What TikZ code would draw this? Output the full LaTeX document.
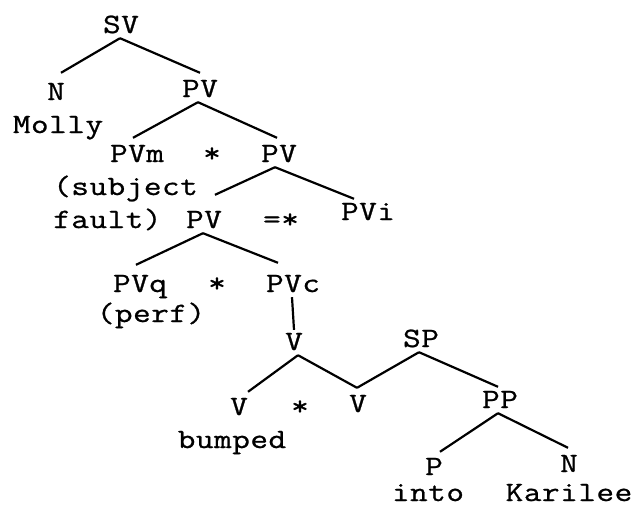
\documentclass[tikz,border=0pt]{standalone}
\usepackage{fontspec}
\newfontfamily\tw[FakeStretch=1.22,FakeBold=0.9,LetterSpace=2]{Latin Modern Mono}
\begin{document}
\begin{tikzpicture}[x=1pt,y=-1pt,
  lbl/.style={font=\tw\fontsize{28}{28}\selectfont, inner xsep=0pt, inner ysep=5pt, text height=17pt, text depth=0pt, anchor=base},
  word/.style={font=\tw\fontsize{28}{28}\selectfont, inner sep=0pt, anchor=base},
  edge/.style={line width=2.2pt}]
\useasboundingbox (0,0) rectangle (637,507);
% nodes
\node[lbl] (sv) at (121,33) {SV};
\node[lbl] (n1) at (56,100) {N};
\node[word] (molly) at (58,133) {Molly};
\node[lbl] (pv1) at (200,97) {PV};
\node[lbl] (pvm) at (137,162) {PVm};
\node[word] (st1) at (212,162) {*};
\node[lbl] (pv2) at (279,162) {PV};
\node[word, anchor=base west] (subj1) at (53,195) {(subject};
\node[word, anchor=base west] (subj2) at (53,228) {fault)};
\node[lbl] (pv3) at (204,228) {PV};
\node[word] (eqs) at (281,228) {=*};
\node[lbl] (pvi) at (368,220) {PVi};
\node[lbl] (pvq) at (140,292) {PVq};
\node[word] (st2) at (217,292) {*};
\node[lbl] (pvc) at (293,292) {PVc};
\node[word] (perf) at (151,322) {(perf)};
\node[lbl] (v1) at (294,350) {V};
\node[lbl] (sp) at (421,347) {SP};
\node[lbl] (v2) at (239,415) {V};
\node[word] (st3) at (300,415) {*};
\node[lbl] (v3) at (358,412) {V};
\node[word] (bumped) at (232,448) {bumped};
\node[lbl] (pp) at (500,408) {PP};
\node[lbl] (p) at (434,475) {P};
\node[lbl] (n2) at (569,472) {N};
\node[word] (into) at (428,501) {into};
\node[word] (karilee) at (569,501) {Karilee};
% edges
\draw[edge] ([xshift=-1pt]sv.south) -- ([xshift=5pt,yshift=5pt]n1.north);
\draw[edge] ([xshift=-1pt]sv.south) -- ([yshift=2pt]pv1.north);
\draw[edge] ([xshift=-2pt]pv1.south) -- ([xshift=-4pt,yshift=2pt]pvm.north);
\draw[edge] ([xshift=-2pt]pv1.south) -- ([xshift=-2pt,yshift=2pt]pv2.north);
\draw[edge] ([xshift=-4pt]pv2.south) -- ([xshift=11pt,yshift=11pt]pv3.north);
\draw[edge] ([xshift=-4pt]pv2.south) -- ([xshift=-14pt,yshift=-1pt]pvi.north);
\draw[edge] ([xshift=-1pt]pv3.south) -- ([xshift=-4pt,yshift=5pt]pvq.north);
\draw[edge] ([xshift=-1pt]pv3.south) -- ([xshift=-15pt,yshift=7pt]pvc.north);
\draw[edge] ([xshift=-1pt]pvc.south) -- ([yshift=-2pt]v1.north);
\draw[edge] ([xshift=4pt]v1.south) -- ([xshift=9pt,yshift=1pt]v2.north);
\draw[edge] ([xshift=4pt]v1.south) -- ([xshift=-1pt,yshift=2pt]v3.north);
\draw[edge] ([xshift=-2pt]sp.south) -- ([xshift=-1pt,yshift=2pt]v3.north);
\draw[edge] ([xshift=-2pt]sp.south) -- ([xshift=-2pt,yshift=-1pt]pp.north);
\draw[edge] ([xshift=-2pt]pp.south) -- ([xshift=6pt,yshift=1pt]p.north);
\draw[edge] ([xshift=-2pt]pp.south) -- ([xshift=-1pt,yshift=2pt]n2.north);
\end{tikzpicture}
\end{document}
